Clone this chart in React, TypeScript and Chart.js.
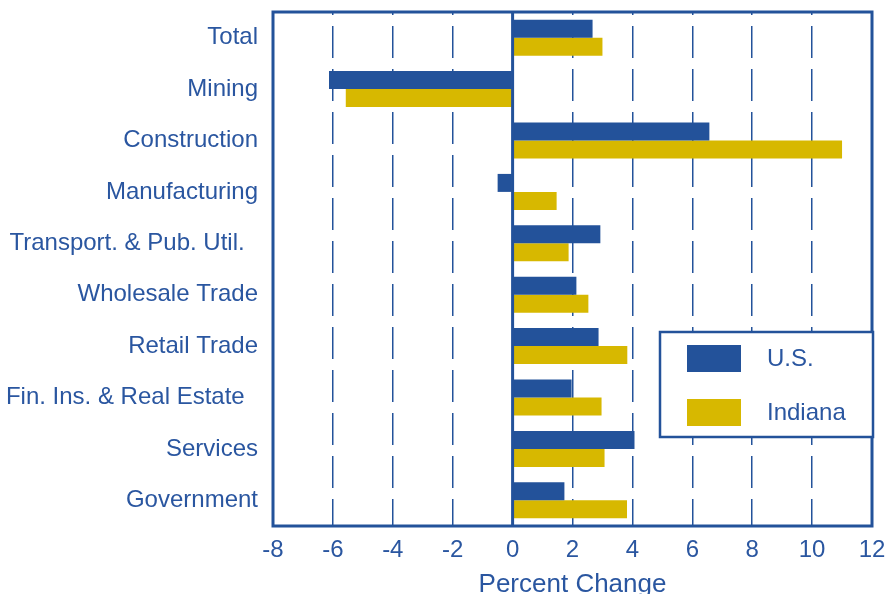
import React, { useEffect, useRef } from "react";
import { Chart, registerables } from "chart.js";

Chart.register(...registerables);

const categories = [
  "Total",
  "Mining",
  "Construction",
  "Manufacturing",
  "Transport. & Pub. Util.  ",
  "Wholesale Trade",
  "Retail Trade",
  "Fin. Ins. & Real Estate  ",
  "Services",
  "Government",
];
const usValues = [2.67, -6.13, 6.57, -0.5, 2.93, 2.13, 2.87, 1.97, 4.07, 1.73];
const indianaValues = [3.0, -5.57, 11.0, 1.47, 1.87, 2.53, 3.83, 2.97, 3.07, 3.82];
const xTicks = [-8, -6, -4, -2, 0, 2, 4, 6, 8, 10, 12];
const seriesNames = ["U.S.", "Indiana"];

const BLUE = "#23529A";
const YELLOW = "#D7B800";
const TEXT = "#2A56A0";
const FONT = "'Liberation Sans', Arial, sans-serif";

const framePlugin = {
  id: "frameAndLegend",
  afterDatasetsDraw(chart: any) {
    const { ctx, chartArea, scales } = chart;
    const x0 = scales.x.getPixelForValue(0);
    ctx.save();
    ctx.strokeStyle = BLUE;
    ctx.lineWidth = 3;
    ctx.beginPath();
    ctx.moveTo(x0, chartArea.top);
    ctx.lineTo(x0, chartArea.bottom);
    ctx.stroke();
    ctx.lineWidth = 3;
    ctx.strokeRect(chartArea.left, chartArea.top, chartArea.right - chartArea.left, chartArea.bottom - chartArea.top);
    ctx.restore();
  },
  afterDraw(chart: any) {
    const { ctx } = chart;
    ctx.save();
    const bx = 660, by = 332, bw = 213, bh = 105;
    ctx.fillStyle = "#ffffff";
    ctx.fillRect(bx, by, bw, bh);
    ctx.strokeStyle = BLUE;
    ctx.lineWidth = 2.5;
    ctx.strokeRect(bx, by, bw, bh);
    chart.data.datasets.forEach((ds: any, i: number) => {
      const sy = 345 + i * 54;
      ctx.fillStyle = ds.backgroundColor;
      ctx.fillRect(687, sy, 54, 27);
      ctx.fillStyle = TEXT;
      ctx.font = `24px ${FONT}`;
      ctx.textBaseline = "middle";
      ctx.textAlign = "left";
      ctx.fillText(ds.label, 767, sy + 14);
    });
    ctx.restore();
  },
};

export default function App() {
  const ref = useRef<HTMLCanvasElement | null>(null);
  useEffect(() => {
    document.body.style.margin = "0";
    const chart = new Chart(ref.current as HTMLCanvasElement, {
      type: "bar",
      data: {
        labels: categories,
        datasets: [
          { label: seriesNames[0], data: usValues, backgroundColor: BLUE, borderWidth: 0 },
          { label: seriesNames[1], data: indianaValues, backgroundColor: YELLOW, borderWidth: 0 },
        ],
      },
      plugins: [framePlugin],
      options: {
        indexAxis: "y",
        animation: false,
        responsive: false,
        maintainAspectRatio: false,
        layout: { padding: { top: 12, right: 13, left: 0, bottom: 0 } },
        datasets: { bar: { categoryPercentage: 0.7, barPercentage: 1.0 } },
        plugins: { legend: { display: false }, tooltip: { enabled: false } },
        scales: {
          x: {
            type: "linear",
            min: -8,
            max: 12,
            afterBuildTicks(scale: any) {
              scale.ticks = xTicks.map((v) => ({ value: v }));
            },
            afterFit(scale: any) {
              scale.height = 68;
              scale.paddingLeft = 0;
              scale.paddingRight = 0;
            },
            border: { display: false, dash: [32, 11], dashOffset: 29 },
            grid: {
              color: BLUE,
              lineWidth: 1.5,
              drawTicks: false,
            },
            ticks: {
              color: TEXT,
              font: { family: FONT, size: 24 },
              padding: 10,
            },
            title: {
              display: true,
              text: "Percent Change",
              color: TEXT,
              font: { family: FONT, size: 26 },
              padding: { top: 0, bottom: -6 },
            },
          },
          y: {
            type: "category",
            afterFit(scale: any) {
              scale.width = 273;
              scale.paddingTop = 0;
              scale.paddingBottom = 0;
            },
            border: { display: false },
            grid: { display: false, drawTicks: false },
            ticks: {
              color: TEXT,
              font: { family: FONT, size: 24 },
              padding: 15,
            },
          },
        },
      } as any,
    });
    return () => chart.destroy();
  }, []);
  return (
    <div style={{ width: 885, height: 594 }}>
      <canvas ref={ref} width={885} height={594} style={{ display: "block" }} />
    </div>
  );
}
